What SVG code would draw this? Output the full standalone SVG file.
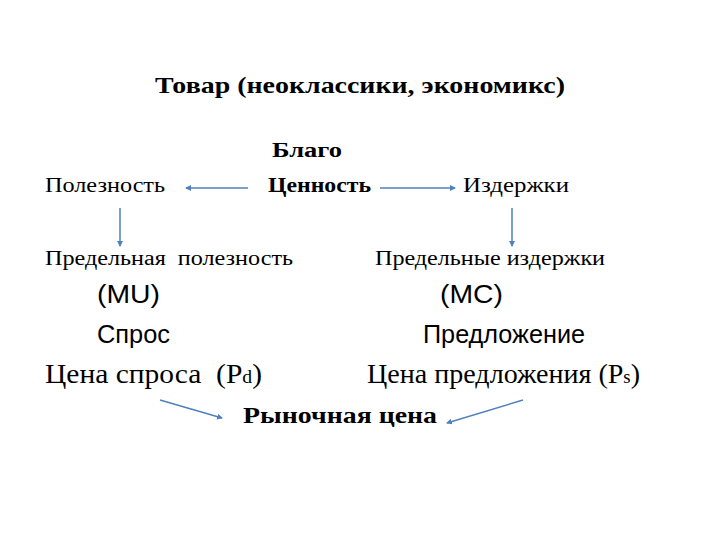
<svg xmlns="http://www.w3.org/2000/svg" width="720" height="540" viewBox="0 0 720 540">
<style>
.s{font-family:"Liberation Serif",serif;fill:#000}
.a{font-family:"Liberation Sans",sans-serif;fill:#000}
.c line{stroke:#4f81bd;stroke-width:1.5;marker-end:url(#m)}
</style>
<defs><marker id="m" markerWidth="6" markerHeight="6" refX="5" refY="3" orient="auto" markerUnits="userSpaceOnUse"><path d="M0,0L6,3L0,6z" fill="#4f81bd"/></marker></defs>
<rect width="720" height="540" fill="#fff"/>
<g id="title"><text class="s" x="155" y="93" font-size="24" font-weight="bold" textLength="410" lengthAdjust="spacingAndGlyphs">Товар (неоклассики, экономикс)</text></g>
<g id="blago"><text class="s" x="272" y="157" font-size="20" font-weight="bold" textLength="70" lengthAdjust="spacingAndGlyphs">Благо</text></g>
<g id="polez"><text class="s" x="45" y="192" font-size="20" textLength="120" lengthAdjust="spacingAndGlyphs">Полезность</text></g>
<g id="cennost"><text class="s" x="268" y="192" font-size="20" font-weight="bold" textLength="103" lengthAdjust="spacingAndGlyphs">Ценность</text></g>
<g id="izd"><text class="s" x="463" y="192" font-size="20" textLength="106" lengthAdjust="spacingAndGlyphs">Издержки</text></g>
<g id="pp"><text class="s" x="45" y="265" font-size="20" xml:space="preserve" textLength="248" lengthAdjust="spacingAndGlyphs">Предельная  полезность</text></g>
<g id="pi"><text class="s" x="375" y="265" font-size="20" textLength="230" lengthAdjust="spacingAndGlyphs">Предельные издержки</text></g>
<g id="mu"><text class="a" x="97" y="303" font-size="26" textLength="63" lengthAdjust="spacingAndGlyphs">(MU)</text></g>
<g id="mc"><text class="a" x="440" y="303" font-size="26" textLength="63" lengthAdjust="spacingAndGlyphs">(MC)</text></g>
<g id="spros"><text class="a" x="97" y="343" font-size="26" textLength="73" lengthAdjust="spacingAndGlyphs">Спрос</text></g>
<g id="predl"><text class="a" x="423" y="343" font-size="26" textLength="162" lengthAdjust="spacingAndGlyphs">Предложение</text></g>
<g id="pd"><text class="s" x="45" y="383" font-size="27" xml:space="preserve" textLength="217" lengthAdjust="spacingAndGlyphs">Цена спроса  (P<tspan font-size="18">d</tspan>)</text></g>
<g id="ps"><text class="s" x="367" y="383" font-size="27" textLength="273" lengthAdjust="spacingAndGlyphs">Цена предложения (P<tspan font-size="18">s</tspan>)</text></g>
<g id="rc"><text class="s" x="243" y="423" font-size="24" font-weight="bold" textLength="194" lengthAdjust="spacingAndGlyphs">Рыночная цена</text></g>
<g id="connectors" class="c">
<line x1="248" y1="188" x2="186" y2="188"/>
<line x1="380" y1="188" x2="455" y2="188"/>
<line x1="120" y1="208" x2="120" y2="246"/>
<line x1="512" y1="208" x2="512" y2="246"/>
<line x1="160" y1="400" x2="222" y2="418"/>
<line x1="523" y1="400" x2="447" y2="423"/>
</g>
</svg>
